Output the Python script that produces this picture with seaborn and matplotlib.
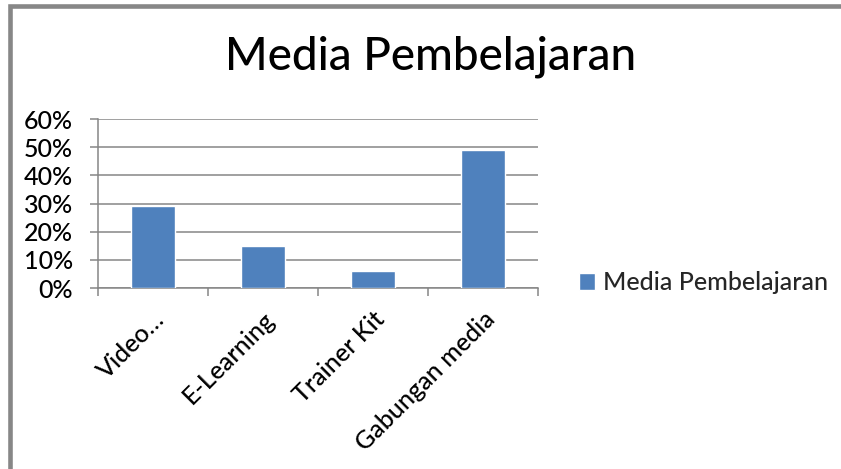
import matplotlib
matplotlib.use("Agg")
import matplotlib.pyplot as plt
import seaborn as sns
import pandas as pd
from matplotlib.ticker import PercentFormatter, FixedLocator
from matplotlib.patches import Rectangle

categories = ["Video…", "E-Learning", "Trainer Kit", "Gabungan media"]
values = [0.29, 0.15, 0.06, 0.49]
series_name = "Media Pembelajaran"
title = "Media Pembelajaran"
y_ticks = [0.0, 0.1, 0.2, 0.3, 0.4, 0.5, 0.6]

sns.set_theme(style="white")
plt.rcParams["font.family"] = ["Lato", "DejaVu Sans"]
plt.rcParams["font.weight"] = "medium"

W, H = 841, 469
fig = plt.figure(figsize=(W / 100, H / 100), dpi=100)
ax = fig.add_axes([98 / W, 1 - 288 / H, 440 / W, 169 / H])

df = pd.DataFrame({"cat": categories, "val": values})
sns.barplot(data=df, x="cat", y="val", color="#4F81BD", saturation=1,
            width=0.4, label=series_name, ax=ax, zorder=3)

grid_c = "#868686"
ax.set_xlim(-0.5, len(categories) - 0.5)
ax.set_ylim(0, 0.6)
ax.yaxis.set_major_locator(FixedLocator(y_ticks))
ax.yaxis.set_major_formatter(PercentFormatter(1.0, decimals=0))
ax.grid(axis="y", color=grid_c, linewidth=1.1, zorder=0)
ax.set_axisbelow(True)
for s in ["top", "right"]:
    ax.spines[s].set_visible(False)
for s in ["left", "bottom"]:
    ax.spines[s].set_color(grid_c)
    ax.spines[s].set_linewidth(1.1)

ax.tick_params(axis="y", which="major", left=True, length=6, width=1.1,
               color=grid_c, pad=12, labelsize=18, labelcolor="black")
ax.set_xticks(range(len(categories)))
ax.set_xticks([i - 0.5 for i in range(len(categories) + 1)], minor=True)
ax.tick_params(axis="x", which="minor", bottom=True, length=6, width=1.1, color=grid_c)
ax.tick_params(axis="x", which="major", bottom=False, length=0, pad=14,
               labelsize=18, labelcolor="black")
ax.set_xticklabels(categories, rotation=45, ha="right", va="top",
                   rotation_mode="anchor")
ax.set_xlabel("")
ax.set_ylabel("")

fig.text(431 / W, 1 - 57 / H, title, ha="center", va="center", fontsize=33, color="black")

leg = ax.legend(loc="center left", bbox_to_anchor=(579 / W, 1 - 283 / H),
                bbox_transform=fig.transFigure, frameon=False, fontsize=18,
                handlelength=0.65, handleheight=0.65, handletextpad=0.3,
                borderpad=0, borderaxespad=0)

border = Rectangle((10 / W, -0.5), 2.0, (1 - 6.5 / H) + 0.5, transform=fig.transFigure,
                   fill=False, edgecolor="#878787", linewidth=3.3)
fig.add_artist(border)

fig.savefig("out.png", dpi=100, facecolor="white")
